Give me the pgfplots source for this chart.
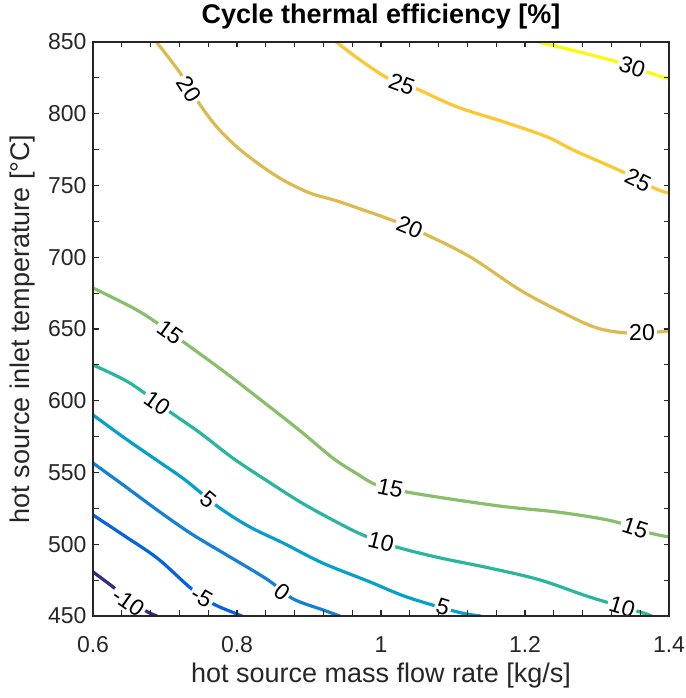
\documentclass[border=0pt]{standalone}
\usepackage{fontspec}
\setmainfont{Liberation Sans}
\usepackage{pgfplots}
\pgfplotsset{compat=1.18}
\definecolor{axgray}{rgb}{0.15,0.15,0.15}
\definecolor{cmten}{rgb}{0.208,0.166,0.529}
\definecolor{cmfive}{rgb}{0.012,0.387,0.882}
\definecolor{czero}{rgb}{0.078,0.504,0.838}
\definecolor{cfive}{rgb}{0.024,0.629,0.804}
\definecolor{cten}{rgb}{0.16,0.71,0.62}
\definecolor{cfifteen}{rgb}{0.53,0.75,0.42}
\definecolor{ctwenty}{rgb}{0.86,0.73,0.31}
\definecolor{ctwentyfive}{rgb}{0.99,0.78,0.19}
\definecolor{cthirty}{rgb}{0.976,0.983,0.054}
\tikzset{lbl/.style={fill=white, inner sep=2bp, text=black, font=\fontsize{23bp}{26bp}\selectfont}}
\begin{document}
\begin{tikzpicture}[x=1bp,y=1bp]
\useasboundingbox (0,0) rectangle (686,698);
\begin{axis}[
  at={(93bp,82bp)}, anchor=south west,
  width=576bp, height=574bp, scale only axis,
  xmin=0.6, xmax=1.4, ymin=450, ymax=850,
  xtick={0.6,0.8,1,1.2,1.4},
  ytick={450,500,550,600,650,700,750,800,850},
  minor x tick num=4, minor y tick num=1,
  tick align=inside,
  major tick length=5.5bp, minor tick length=5.5bp,
  axis line style={axgray, line width=1.2bp},
  every tick/.style={axgray, line width=1.1bp},
  /pgf/number format/assume math mode=true,
  tick label style={font=\fontsize{23bp}{27bp}\selectfont, text=axgray},
  xticklabel style={anchor=base, yshift=-37bp},
  yticklabel style={anchor=east, xshift=-3bp},
  label style={font=\fontsize{27bp}{32bp}\selectfont, text=axgray},
  xlabel={hot source mass flow rate [kg/s]},
  ylabel={hot source inlet temperature [°C]},
  title={Cycle thermal efficiency [\%]},
  title style={font=\bfseries\fontsize{27bp}{32bp}\selectfont, text=black, at={(0.5,1)}, anchor=base, yshift=13bp},
  xlabel style={at={(0.5,0)}, anchor=base, yshift=-67bp},
  ylabel style={at={(-0.111,0.5)}, anchor=base},
  axis on top,
  clip=true,
  every axis plot/.append style={line width=3.2bp, mark=none, smooth, tension=0.55},
]
% -10
\addplot[cmten] coordinates {(0.6,480.7) (0.628,470.2) (0.652,460.5) (0.676,452.8) (0.689,450)};
% -5
\addplot[cmfive] coordinates {(0.6,520.4) (0.642,506.4) (0.689,490.4) (0.732,471.0) (0.755,462.0) (0.775,456.5) (0.807,450)};
% 0
\addplot[czero] coordinates {(0.6,556.6) (0.642,541.3) (0.689,523.9) (0.735,507.8) (0.781,493.9) (0.828,479.9) (0.849,473.0) (0.878,461.9) (0.919,454.3) (0.943,450)};
% 5
\addplot[cfive] coordinates {(0.6,590.1) (0.644,574.0) (0.686,559.4) (0.728,544.8) (0.774,526.0) (0.818,512.0) (0.864,500.9) (0.919,486.9) (0.985,473.7) (1.036,463.2) (1.106,452.8) (1.139,450)};
% 10
\addplot[cten] coordinates {(0.6,624.9) (0.651,612.4) (0.707,592.2) (0.749,577.5) (0.794,560.1) (0.842,544.1) (0.888,529.4) (0.933,516.9) (0.975,506.4) (1.022,498.0) (1.082,490.5) (1.151,483.4) (1.221,475.1) (1.290,463.2) (1.360,452.8) (1.376,450)};
% 15
\addplot[cfifteen] coordinates {(0.6,678.6) (0.656,664.6) (0.689,654.2) (0.725,641.2) (0.781,620.7) (0.835,599.8) (0.888,578.9) (0.933,560.1) (0.967,549.0) (0.994,541.3) (1.036,536.4) (1.106,530.8) (1.175,526.0) (1.244,522.5) (1.300,518.3) (1.332,514.8) (1.374,507.8) (1.4,505.1)};
% 20
\addplot[ctwenty] coordinates {(0.688,850) (0.721,828.4) (0.749,806.1) (0.772,790.8) (0.800,776.8) (0.832,764.3) (0.864,753.8) (0.901,744.8) (0.939,739.2) (0.975,733.0) (1.022,724.6) (1.058,716.9) (1.124,700.2) (1.193,677.2) (1.253,661.2) (1.300,650.7) (1.342,647.2) (1.383,647.9) (1.4,648.6)};
% 25
\addplot[ctwentyfive] coordinates {(0.938,850) (0.967,838.9) (1.010,824.6) (1.050,817.2) (1.106,804.7) (1.175,793.6) (1.231,783.8) (1.267,774.7) (1.336,759.4) (1.382,747.6) (1.4,744.8)};
% 30
\addplot[cthirty] coordinates {(1.218,850) (1.276,843) (1.328,836.1) (1.369,829.1) (1.4,824.2)};
% labels
\node[lbl, rotate=-35] at (axis cs:0.649,459.6) {-10};
\node[lbl, rotate=-30] at (axis cs:0.751,463.0) {-5};
\node[lbl, rotate=-37] at (axis cs:0.8625,467.0) {0};
\node[lbl, rotate=-40] at (axis cs:0.760,531.0) {5};
\node[lbl, rotate=-17] at (axis cs:1.086,456.0) {5};
\node[lbl, rotate=-35] at (axis cs:0.689,598.5) {10};
\node[lbl, rotate=-14] at (axis cs:1.000,501.5) {10};
\node[lbl, rotate=-17] at (axis cs:1.335,456.6) {10};
\node[lbl, rotate=-36] at (axis cs:0.707,647.6) {15};
\node[lbl, rotate=-12] at (axis cs:1.013,539.0) {15};
\node[lbl, rotate=-18] at (axis cs:1.353,511.3) {15};
\node[lbl, rotate=-58] at (axis cs:0.733,817.0) {20};
\node[lbl, rotate=-23] at (axis cs:1.040,720.8) {20};
\node[lbl, rotate=0] at (axis cs:1.3625,647.3) {20};
\node[lbl, rotate=-20] at (axis cs:1.029,820.7) {25};
\node[lbl, rotate=-26] at (axis cs:1.357,753.8) {25};
\node[lbl, rotate=-18] at (axis cs:1.349,832.3) {30};
\end{axis}
\end{tikzpicture}
\end{document}
